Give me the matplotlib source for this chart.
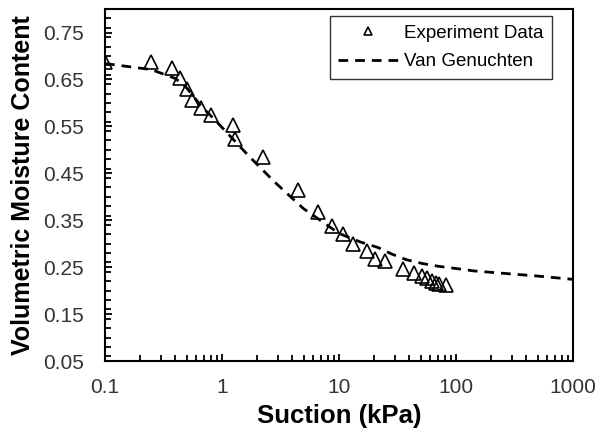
import matplotlib.pyplot as plt
from matplotlib.ticker import FixedLocator, FixedFormatter, MultipleLocator

plt.rcParams['font.family'] = ['Liberation Sans', 'DejaVu Sans']

# Experiment data (suction kPa, volumetric moisture content)
suction = [0.1, 0.247, 0.374, 0.437, 0.502, 0.555, 0.662, 0.805, 1.24, 1.28,
           2.24, 4.44, 6.65, 8.77, 10.9, 13.2, 17.5, 20.3, 24.9, 35.5,
           44.1, 50.9, 56.2, 62.0, 67.5, 72.0, 81.7]
moisture = [0.688, 0.688, 0.675, 0.654, 0.629, 0.607, 0.590, 0.575, 0.554, 0.524,
            0.484, 0.415, 0.367, 0.337, 0.320, 0.300, 0.285, 0.268, 0.263, 0.247,
            0.238, 0.231, 0.226, 0.220, 0.217, 0.215, 0.213]

# Van Genuchten fit
vg_suction = [0.1, 0.25, 0.4, 0.5, 0.66, 0.8, 0.99, 1.68, 2.83, 4.96,
              10, 15.1, 21.5, 28.2, 37.6, 51, 70.2, 101, 142, 200, 500, 1000]
vg_moisture = [0.684, 0.671, 0.652, 0.632, 0.594, 0.573, 0.549, 0.488, 0.431, 0.375,
               0.322, 0.304, 0.292, 0.278, 0.266, 0.258, 0.252, 0.247, 0.242, 0.239, 0.231, 0.224]

fig = plt.figure(figsize=(5.99, 4.34), dpi=100)
ax = fig.add_axes([0.1753, 0.1682, 0.9566 - 0.1753, 0.979 - 0.1682])

ax.plot(suction, moisture, linestyle='none', marker='^', markersize=10,
        markerfacecolor='none', markeredgecolor='black', markeredgewidth=1.2,
        label='Experiment Data', zorder=3)
ax.plot(vg_suction, vg_moisture, color='black', linewidth=2,
        dashes=(3.5, 2.5), label='Van Genuchten', zorder=2)

ax.set_xscale('log')
ax.set_xlim(0.1, 1000)
ax.set_ylim(0.05, 0.8)

ax.xaxis.set_major_locator(FixedLocator([0.1, 1, 10, 100, 1000]))
ax.xaxis.set_major_formatter(FixedFormatter(['0.1', '1', '10', '100', '1000']))
ax.yaxis.set_major_locator(FixedLocator([0.05, 0.15, 0.25, 0.35, 0.45, 0.55, 0.65, 0.75]))
ax.yaxis.set_major_formatter(FixedFormatter(['0.05', '0.15', '0.25', '0.35',
                                             '0.45', '0.55', '0.65', '0.75']))
ax.yaxis.set_minor_locator(MultipleLocator(0.02))

ax.tick_params(which='both', direction='in', width=1.3, labelsize=15,
               labelcolor='#333333', top=False, right=False)
ax.tick_params(which='major', length=5)
ax.tick_params(which='minor', length=4)
ax.tick_params(axis='y', which='major', pad=15)
ax.tick_params(axis='x', which='major', pad=12)

for s in ax.spines.values():
    s.set_linewidth(1.5)

ax.set_xlabel('Suction (kPa)', fontsize=18.5, fontweight='bold')
ax.set_ylabel('Volumetric Moisture Content', fontsize=18, fontweight='bold')
ax.xaxis.set_label_coords(0.5, -0.122)
ax.yaxis.set_label_coords(-0.15, 0.5)

leg = ax.legend(loc='upper right', bbox_to_anchor=(0.955, 0.98), borderaxespad=0,
                fontsize=13.5, frameon=True, fancybox=False, edgecolor='black',
                markerscale=0.6, handlelength=3.2, handletextpad=0.3,
                borderpad=0.45, labelspacing=0.6)
leg.get_frame().set_linewidth(1.0)

fig.savefig('out.png', dpi=100)
